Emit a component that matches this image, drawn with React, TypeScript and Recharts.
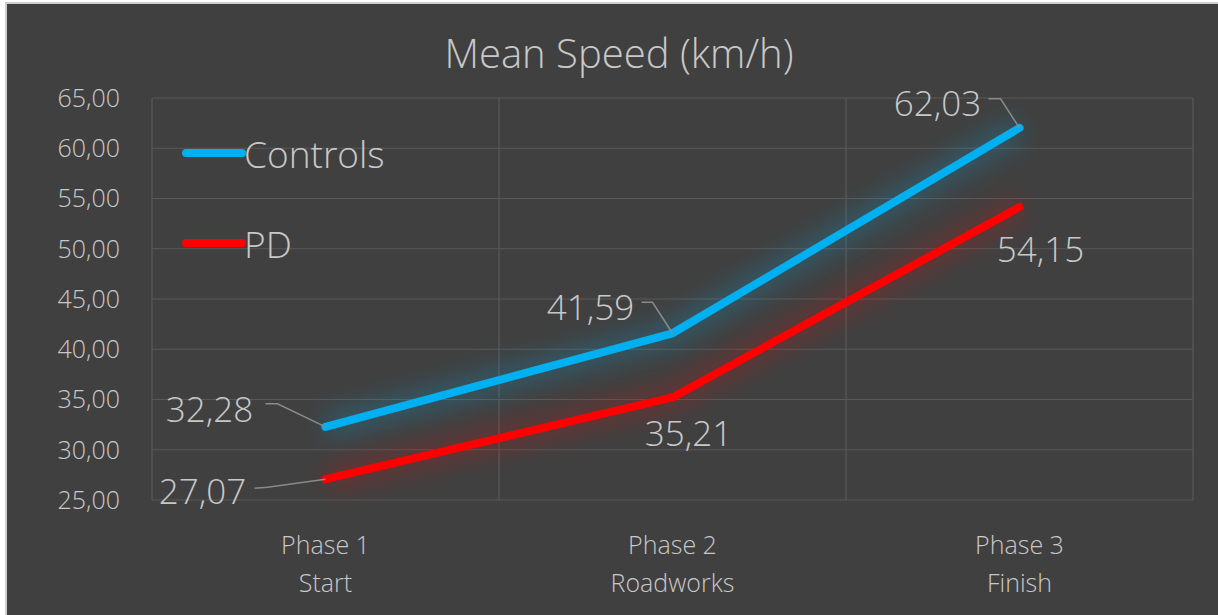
import React from "react";
import { LineChart, Line, XAxis, YAxis, CartesianGrid, LabelList } from "recharts";

const phases = ["Phase 1", "Phase 2", "Phase 3"];
const stages = ["Start", "Roadworks", "Finish"];
const seriesNames = ["Controls", "PD"];
const controls = [32.28, 41.59, 62.03];
const pd = [27.07, 35.21, 54.15];
const yTicks = [25, 30, 35, 40, 45, 50, 55, 60, 65];

const data = phases.map((p, i) => ({
  phase: p,
  stage: stages[i],
  Controls: controls[i],
  PD: pd[i],
}));

const FONT = "'Open Sans', 'Noto Sans', sans-serif";
const TEXT = "#c8c8c8";
const BLUE = "#00B0F0";
const RED = "#FF0000";
const colors = [BLUE, RED];

const fmt = (v: number) => v.toFixed(2).replace(".", ",");

// label placement relative to the point: text centre + optional leader
const controlsPlace = [
  { dx: -116, dy: -18, leader: [[-60, -23], [-48, -23]] },
  { dx: -82, dy: -27, leader: [[-31, -31], [-20, -31]] },
  { dx: -82, dy: -25, leader: [[-31, -29], [-19, -29]] },
];
const pdPlace = [
  { dx: -123, dy: 11, leader: [[-71, 9], [-58, 8]] },
  { dx: 16, dy: 35, leader: null },
  { dx: 21, dy: 41, leader: null },
];

const makeLabel = (place: any[]) => (props: any) => {
  const { x, y, value, index } = props;
  const p = place[index];
  return (
    <g>
      {p.leader && (
        <polyline
          points={`${x + p.leader[0][0]},${y + p.leader[0][1]} ${x + p.leader[1][0]},${y + p.leader[1][1]} ${x},${y}`}
          fill="none"
          stroke="#8a8a8a"
          strokeWidth={1.5}
        />
      )}
      <text
        x={x + p.dx}
        y={y + p.dy}
        textAnchor="middle"
        dominantBaseline="central"
        fill={TEXT}
        fontSize={35}
        fontFamily={FONT}
        fontWeight={300}
      >
        {fmt(value)}
      </text>
    </g>
  );
};

const XTick = (props: any) => {
  const { x, y, payload } = props;
  const i = payload.index;
  return (
    <text x={x} y={y} textAnchor="middle" fill={TEXT} fontSize={25} fontFamily={FONT} fontWeight={300}>
      <tspan x={x} dy={46}>{phases[i]}</tspan>
      <tspan x={x} dy={38}>{stages[i]}</tspan>
    </text>
  );
};

export default function App() {
  return (
    <div style={{ position: "absolute", left: 0, top: 0, width: 1218, height: 615, background: "#fff" }}>
      <svg width={0} height={0} style={{ position: "absolute" }}>
        <defs>
          <filter id="glow" x="-30%" y="-30%" width="160%" height="160%">
            <feGaussianBlur stdDeviation={11} />
          </filter>
        </defs>
      </svg>
      <div
        style={{
          position: "absolute",
          left: 5,
          top: 2,
          width: 1213,
          height: 613,
          background: "#404040",
          borderTop: "2px solid #cfcfcf",
          borderLeft: "2px solid #cfcfcf",
        }}
      />
      <div
        style={{
          position: "absolute",
          left: 0,
          top: 25,
          width: 1238,
          textAlign: "center",
          color: TEXT,
          fontFamily: FONT,
          fontSize: 40,
          fontWeight: 300,
        }}
      >
        Mean Speed (km/h)
      </div>
      <div style={{ position: "absolute", left: 0, top: 0 }}>
        <LineChart width={1218} height={615} data={data} margin={{ top: 98, right: 25, bottom: 0, left: 0 }}>
          <CartesianGrid
            stroke="#595959"
            strokeWidth={1.2}
            verticalCoordinatesGenerator={({ offset }: any) =>
              [0, 1, 2, 3].map((i) => offset.left + (i * offset.width) / phases.length)
            }
          />
          <XAxis
            dataKey="phase"
            scale="band"
            height={115}
            axisLine={false}
            tickLine={false}
            tick={<XTick />}
            interval={0}
          />
          <YAxis
            width={152}
            domain={[25, 65]}
            ticks={yTicks}
            tickFormatter={fmt}
            axisLine={false}
            tickLine={false}
            tickSize={0}
            tickMargin={32}
            tick={{ fill: TEXT, fontSize: 25, fontFamily: FONT, fontWeight: 300 }}
          />
          <Line
            dataKey="Controls"
            stroke={BLUE}
            strokeWidth={28}
            strokeOpacity={0.2}
            filter="url(#glow)"
            dot={false}
            activeDot={false}
            legendType="none"
            isAnimationActive={false}
          />
          <Line
            dataKey="PD"
            stroke={RED}
            strokeWidth={28}
            strokeOpacity={0.18}
            filter="url(#glow)"
            dot={false}
            activeDot={false}
            legendType="none"
            isAnimationActive={false}
          />
          <Line
            dataKey="Controls"
            name="Controls"
            stroke={BLUE}
            strokeWidth={8}
            strokeLinecap="round"
            strokeLinejoin="round"
            dot={false}
            activeDot={false}
            isAnimationActive={false}
          >
            <LabelList dataKey="Controls" content={makeLabel(controlsPlace)} />
          </Line>
          <Line
            dataKey="PD"
            name="PD"
            stroke={RED}
            strokeWidth={8}
            strokeLinecap="round"
            strokeLinejoin="round"
            dot={false}
            activeDot={false}
            isAnimationActive={false}
          >
            <LabelList dataKey="PD" content={makeLabel(pdPlace)} />
          </Line>
        </LineChart>
      </div>
      <div style={{ position: "absolute", left: 181, top: 108, fontFamily: FONT }}>
        {seriesNames.map((n, i) => (
          <div key={n} style={{ display: "flex", alignItems: "center", height: 90 }}>
            <svg width={66} height={12}>
              <line x1={5} y1={6} x2={61} y2={6} stroke={colors[i]} strokeWidth={8} strokeLinecap="round" />
            </svg>
            <span style={{ color: TEXT, fontSize: 37, fontWeight: 300, marginLeft: -3 }}>{n}</span>
          </div>
        ))}
      </div>
    </div>
  );
}
